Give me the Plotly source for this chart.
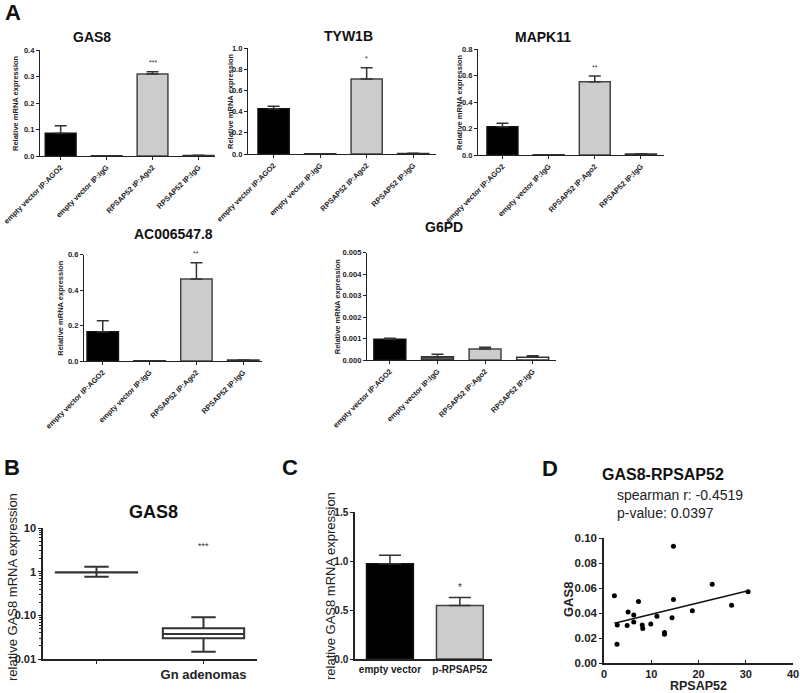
import plotly.graph_objects as go

W, H = 800, 693

# ---------------- data ----------------
categories = ["empty vector IP:AGO2", "empty vector IP:IgG", "RPSAP52 IP:Ago2", "RPSAP52 IP:IgG"]

gas8_vals = [0.086, 0.0006, 0.309, 0.002]
gas8_err = [0.028, 0.0, 0.009, 0.0004]
tyw1b_vals = [0.427, 0.002, 0.707, 0.005]
tyw1b_err = [0.023, 0.0, 0.107, 0.001]
mapk11_vals = [0.214, 0.001, 0.553, 0.008]
mapk11_err = [0.025, 0.0, 0.043, 0.001]
ac_vals = [0.165, 0.002, 0.462, 0.005]
ac_err = [0.062, 0.0, 0.092, 0.001]
g6pd_vals = [0.00096, 0.000155, 0.00051, 0.000124]
g6pd_err = [0.00005, 0.00011, 0.00008, 0.000076]

b_groups = ["", "Gn adenomas"]
b_q1 = [0.955, 0.0298]
b_median = [0.966, 0.0374]
b_q3 = [0.975, 0.0505]
b_low = [0.767, 0.0147]
b_high = [1.30, 0.0902]

c_groups = ["empty vector", "p-RPSAP52"]
c_vals = [0.973, 0.546]
c_err = [0.085, 0.082]

d_rpsap52 = [2.2, 2.8, 2.75, 5.1, 4.9, 7.3, 6.3, 6.3, 8.1, 8.2, 9.9, 11.2, 12.8, 12.8,
             14.4, 14.7, 14.7, 18.7, 22.9, 27.0, 30.5]
d_gas8 = [0.0538, 0.0305, 0.0151, 0.0408, 0.0300, 0.0493, 0.0385, 0.0329, 0.0305, 0.0276,
          0.0313, 0.0374, 0.0244, 0.0231, 0.0363, 0.0934, 0.0509, 0.0419, 0.0631, 0.0462, 0.0570]
d_fit_x = [2.2, 30.5]
d_fit_y = [0.0318, 0.0578]

# ---------------- helpers ----------------
FONT = "Arial, Liberation Sans, sans-serif"
DARK = "#222222"


def dx(a, b):
    return [a / W, b / W]


def dy(top, bottom):
    return [1 - bottom / H, 1 - top / H]


def px(x):
    return x / W


def py(y):
    return 1 - y / H


bar_fill = ["#000000", "#555555", "#cccccc", "#ffffff"]
bar_line = ["#111111", "#333333", "#444444", "#333333"]

fig = go.Figure()
layout = dict(width=W, height=H, margin=dict(l=0, r=0, t=0, b=0, pad=0), autosize=False,
              paper_bgcolor="white", plot_bgcolor="white", showlegend=False,
              font=dict(family=FONT, color=DARK))
annotations = []


def axis_base(**kw):
    d = dict(showline=True, linecolor=DARK, linewidth=1.2, ticks="outside", ticklen=3,
             tickwidth=1, tickcolor=DARK, showgrid=False, zeroline=False, automargin=False)
    d.update(kw)
    return d


# Panel A bar charts
a_panels = [
    ("GAS8", gas8_vals, gas8_err, (40, 215), (50, 156), [0, 0.4], 0.1, ".1f", [-0.45, 3.36], (92, 37), 15, "***"),
    ("TYW1B", tyw1b_vals, tyw1b_err, (248, 436), (48, 154), [0, 1.0], 0.2, ".1f", [-0.55, 3.49], (348, 36), 231, "*"),
    ("MAPK11", mapk11_vals, mapk11_err, (478, 664), (49, 155), [0, 0.8], 0.2, ".1f", [-0.53, 3.5], (543, 37), 459, "**"),
    ("AC006547.8", ac_vals, ac_err, (84, 262), (254.5, 361), [0, 0.6], 0.2, ".1f", [-0.4, 3.4], (173, 234), 61, "**"),
    ("G6PD", g6pd_vals, g6pd_err, (367, 556), (252.5, 360), [0, 0.005], 0.001, ".3f", [-0.48, 3.49], (444, 227), 337, None),
]

for i, (name, vals, err, xd, yd, yr, dt, fmt, xr, tpos, ylx, stars) in enumerate(a_panels, start=1):
    xa = "x" if i == 1 else f"x{i}"
    ya = "y" if i == 1 else f"y{i}"
    fig.add_trace(go.Bar(
        x=categories, y=vals, width=0.67, xaxis=xa, yaxis=ya,
        marker=dict(color=bar_fill, line=dict(color=bar_line, width=1.5)),
        error_y=dict(type="data", array=err, arrayminus=[0] * len(err), symmetric=False,
                     color="#333333", thickness=1.5, width=6),
    ))
    xkey = "xaxis" if i == 1 else f"xaxis{i}"
    ykey = "yaxis" if i == 1 else f"yaxis{i}"
    layout[xkey] = axis_base(domain=dx(*xd), anchor=ya, type="category", range=xr,
                             tickangle=-45, tickfont=dict(size=7.5, family=FONT, color=DARK, weight="bold"))
    layout[ykey] = axis_base(domain=dy(*yd), anchor=xa, range=yr, dtick=dt, tick0=0, tickformat=fmt,
                             tickfont=dict(size=7.5, family=FONT, color=DARK, weight="bold"))
    annotations.append(dict(text=f"<b>{name}</b>", x=px(tpos[0]), y=py(tpos[1]), xref="paper", yref="paper",
                            showarrow=False, font=dict(size=14, family=FONT, color="#111"),
                            xanchor="center", yanchor="middle"))
    annotations.append(dict(text="<b>Relative mRNA expression</b>", x=px(ylx),
                            y=py((yd[0] + yd[1]) / 2), xref="paper", yref="paper", textangle=-90,
                            showarrow=False, font=dict(size=7.5, family=FONT, color=DARK),
                            xanchor="center", yanchor="middle"))
    if stars:
        annotations.append(dict(text=stars, x=categories[2], y=vals[2] + err[2], xref=xa, yref=ya,
                                showarrow=False, yshift=9, font=dict(size=7, family=FONT, color="#333"),
                                xanchor="center", yanchor="middle"))

# Panel B box plot (log)
fig.add_trace(go.Box(
    x=[0, 1], q1=b_q1, median=b_median, q3=b_q3, lowerfence=b_low, upperfence=b_high,
    xaxis="x6", yaxis="y6", width=0.76, whiskerwidth=0.3, fillcolor="white",
    line=dict(color="#333333", width=2), boxpoints=False,
))
minor_vals = [m * 10 ** e for e in (-2, -1, 0) for m in range(2, 10)]
layout["xaxis6"] = axis_base(domain=dx(43, 257), anchor="y6", range=[-0.5, 1.5], tickvals=[0, 1],
                             ticktext=b_groups, linewidth=1.5,
                             tickfont=dict(size=13, family=FONT, color=DARK, weight="bold"))
layout["yaxis6"] = axis_base(domain=dy(528, 659), anchor="x6", type="log", range=[-2, 1],
                             tickvals=[0.01, 0.1, 1, 10], ticktext=["0.01", "0.10", "1", "10"], linewidth=1.5,
                             tickfont=dict(size=11, family=FONT, color=DARK, weight="bold"),
                             minor=dict(ticks="outside", ticklen=2, tickvals=minor_vals, tickcolor=DARK))
annotations.append(dict(text="<b>GAS8</b>", x=px(153), y=py(512), xref="paper", yref="paper",
                        showarrow=False, font=dict(size=18, family=FONT, color="#111"),
                        xanchor="center", yanchor="middle"))
annotations.append(dict(text="relative GAS8 mRNA expression", x=px(12), y=py(587), xref="paper", yref="paper",
                        textangle=-90, showarrow=False, font=dict(size=13, family=FONT, color=DARK),
                        xanchor="center", yanchor="middle"))
annotations.append(dict(text="***", x=1, y=b_high[1], xref="x6", yref="y6", showarrow=False, yshift=22,
                        font=dict(size=9, family=FONT, color="#333"), xanchor="center", yanchor="middle"))

# Panel C bars
fig.add_trace(go.Bar(
    x=c_groups, y=c_vals, width=0.67, xaxis="x7", yaxis="y7",
    marker=dict(color=["#000000", "#cccccc"], line=dict(color=["#111111", "#444444"], width=1.5)),
    error_y=dict(type="data", array=c_err, arrayminus=[0, 0], symmetric=False,
                 color="#333333", thickness=1.5, width=11),
))
layout["xaxis7"] = axis_base(domain=dx(355, 492), anchor="y7", type="category", range=[-0.5, 1.46],
                             ticks="", linewidth=1.5,
                             tickfont=dict(size=10, family=FONT, color=DARK, weight="bold"))
layout["yaxis7"] = axis_base(domain=dy(512, 659), anchor="x7", range=[0, 1.5], dtick=0.5, tick0=0,
                             tickformat=".1f", linewidth=1.5,
                             tickfont=dict(size=10, family=FONT, color=DARK, weight="bold"))
annotations.append(dict(text="relative GAS8 mRNA expression", x=px(330), y=py(586), xref="paper", yref="paper",
                        textangle=-90, showarrow=False, font=dict(size=13, family=FONT, color=DARK),
                        xanchor="center", yanchor="middle"))
annotations.append(dict(text="*", x=c_groups[1], y=c_vals[1] + c_err[1], xref="x7", yref="y7",
                        showarrow=False, yshift=10, font=dict(size=10, family=FONT, color="#333"),
                        xanchor="center", yanchor="middle"))

# Panel D scatter
fig.add_trace(go.Scatter(x=d_rpsap52, y=d_gas8, mode="markers", xaxis="x8", yaxis="y8",
                         marker=dict(size=5, color="#000000")))
fig.add_trace(go.Scatter(x=d_fit_x, y=d_fit_y, mode="lines", xaxis="x8", yaxis="y8",
                         line=dict(color="#111111", width=1.5)))
layout["xaxis8"] = axis_base(domain=dx(604, 793), anchor="y8", range=[0, 40], dtick=10, tick0=0,
                             linewidth=1.5, ticks="inside", ticklen=3,
                             tickfont=dict(size=11, family=FONT, color=DARK, weight="bold"))
layout["yaxis8"] = axis_base(domain=dy(538, 663), anchor="x8", range=[0, 0.1], dtick=0.02, tick0=0,
                             tickformat=".2f", linewidth=1.5, ticklen=3,
                             tickfont=dict(size=11.5, family=FONT, color=DARK, weight="bold"))
annotations.append(dict(text="<b>RPSAP52</b>", x=px(698), y=py(686), xref="paper", yref="paper",
                        showarrow=False, font=dict(size=12.5, family=FONT, color=DARK),
                        xanchor="center", yanchor="middle"))
annotations.append(dict(text="<b>GAS8</b>", x=px(568), y=py(600), xref="paper", yref="paper", textangle=-90,
                        showarrow=False, font=dict(size=13, family=FONT, color=DARK),
                        xanchor="center", yanchor="middle"))
annotations.append(dict(text="<b>GAS8-RPSAP52</b>", x=px(663), y=py(474), xref="paper", yref="paper",
                        showarrow=False, font=dict(size=16, family=FONT, color="#111"),
                        xanchor="center", yanchor="middle"))
annotations.append(dict(text="spearman r: -0.4519", x=px(615), y=py(495), xref="paper", yref="paper",
                        showarrow=False, font=dict(size=14, family=FONT, color=DARK),
                        xanchor="left", yanchor="middle"))
annotations.append(dict(text="p-value: 0.0397", x=px(615), y=py(513), xref="paper", yref="paper",
                        showarrow=False, font=dict(size=14, family=FONT, color=DARK),
                        xanchor="left", yanchor="middle"))

# Panel letters
for letter, lx, ly in [("A", 13, 13), ("B", 12, 467), ("C", 290, 467), ("D", 550, 468)]:
    annotations.append(dict(text=f"<b>{letter}</b>", x=px(lx), y=py(ly), xref="paper", yref="paper",
                            showarrow=False, font=dict(size=22, family=FONT, color="#111"),
                            xanchor="center", yanchor="middle"))

layout["annotations"] = annotations
fig.update_layout(**layout)
fig.write_html("out.html", config={"displayModeBar": False},
               post_script="document.body.style.margin='0px';")
